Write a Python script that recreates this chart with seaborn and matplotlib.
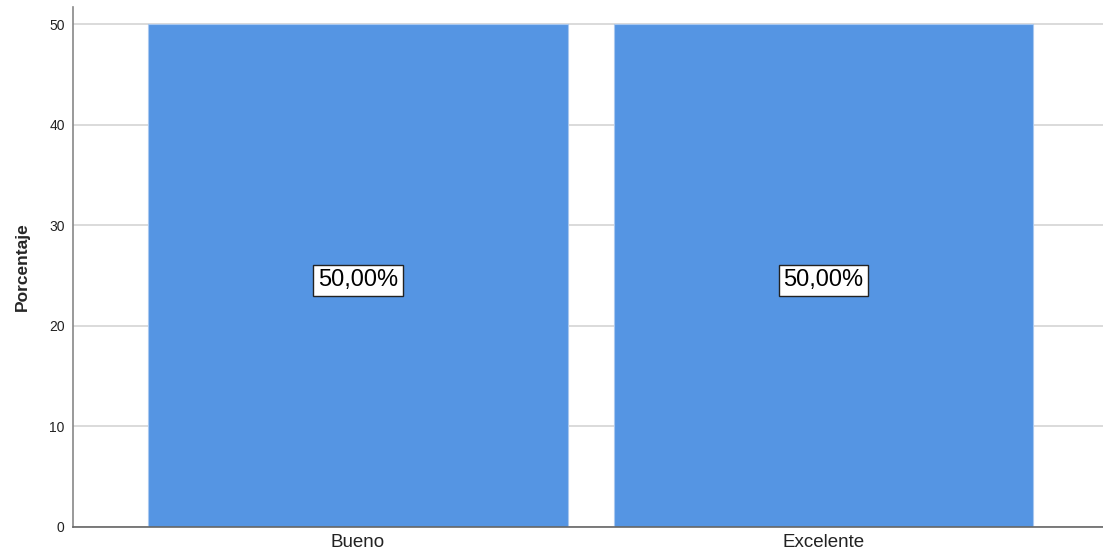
import matplotlib
matplotlib.use("Agg")
import matplotlib.pyplot as plt
import seaborn as sns
import pandas as pd

# Category shares
categorias = ["Bueno", "Excelente"]
porcentajes = [50.0, 50.0]
etiquetas = ["50,00%", "50,00%"]
yticks = [0, 10, 20, 30, 40, 50]

sns.set_style("white")
plt.rcParams["font.family"] = ["Liberation Sans", "DejaVu Sans"]

df = pd.DataFrame({"categoria": categorias, "porcentaje": porcentajes})

fig = plt.figure(figsize=(11.03, 5.59), dpi=100)
ax = fig.add_axes([73 / 1103, 1 - 527 / 559, 1 - 73 / 1103, (527 - 7) / 559])

ax.set_axisbelow(True)
for t in yticks:
    ax.axhline(t, color="#d4d4d4", lw=1.2, zorder=0)

sns.barplot(data=df, x="categoria", y="porcentaje", color="#5595e3",
            saturation=1, width=0.9, edgecolor="#a9c8ef", linewidth=0.8,
            ax=ax, zorder=2)

for i, (v, lab) in enumerate(zip(porcentajes, etiquetas)):
    ax.annotate(lab, xy=(i, v / 2), xytext=(0, -3.5), textcoords="offset points",
                ha="center", va="center", fontsize=17, color="black", zorder=3,
                bbox=dict(boxstyle="square,pad=0.2", facecolor="white",
                          edgecolor="#222222", linewidth=1.0))

ax.set_xlim(-0.612, 1.60)
ax.set_ylim(0, 51.7)
ax.set_yticks(yticks)
ax.set_yticklabels([str(t) for t in yticks], fontsize=10, color="#222222")
ax.tick_params(axis="x", labelsize=13.5, colors="#222222", length=0, pad=5)
ax.tick_params(axis="y", length=0, pad=6)
ax.set_xlabel("")
ax.set_ylabel("Porcentaje", fontsize=12.5, fontweight="bold", labelpad=14)

for s in ["top", "right"]:
    ax.spines[s].set_visible(False)
ax.spines["left"].set_color("#888888")
ax.spines["left"].set_linewidth(1.2)
ax.spines["bottom"].set_color("#666666")
ax.spines["bottom"].set_linewidth(1.2)

fig.savefig("out.png", dpi=100)
